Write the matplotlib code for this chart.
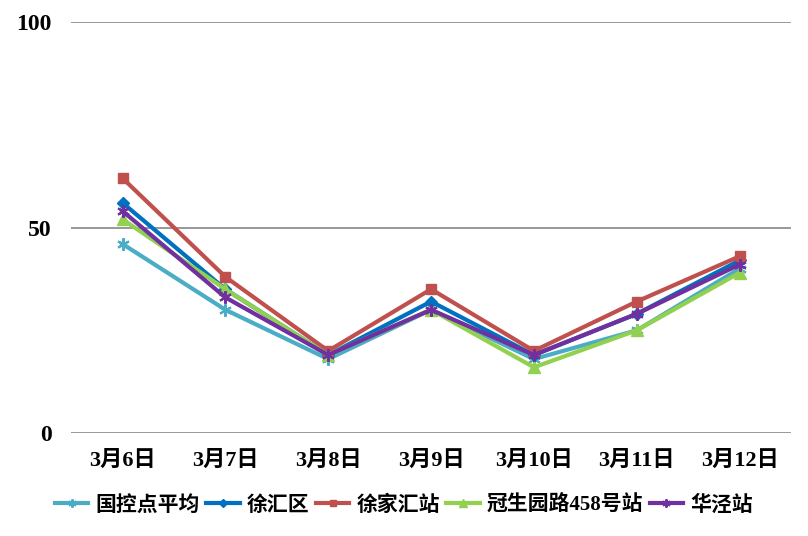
import matplotlib
matplotlib.use('Agg')
import matplotlib.pyplot as plt

dates = ['3月6日', '3月7日', '3月8日', '3月9日', '3月10日', '3月11日', '3月12日']
guokong = [46, 30, 18, 30, 18, 25, 40]
xuhui = [56, 35, 19, 32, 19, 29, 42]
xujiahui = [62, 38, 20, 35, 20, 32, 43]
guanshengyuan = [52, 35, 19, 30, 16, 25, 39]
huajing = [54, 33, 19, 30, 19, 29, 41]

fonts = ['Liberation Serif', 'Noto Sans CJK SC', 'DejaVu Sans']
plt.rcParams['font.family'] = fonts
plt.rcParams['font.weight'] = 'heavy'

fig = plt.figure(figsize=(8.08, 5.36), dpi=100)
ax = fig.add_axes([0.088, 0.192, 0.891, 0.767])

x = range(len(dates))
star = (6, 2, 0)
ax.plot(x, guokong, color='#4BACC6', lw=3, marker=star, ms=9, mew=1.5, label='国控点平均')
ax.plot(x, xuhui, color='#0070C0', lw=3, marker='D', ms=6, label='徐汇区')
ax.plot(x, xujiahui, color='#C0504D', lw=3, marker='s', ms=7, label='徐家汇站')
ax.plot(x, guanshengyuan, color='#92D050', lw=3, marker='^', ms=9, label='冠生园路458号站')
ax.plot(x, huajing, color='#7030A0', lw=3, marker=star, ms=9, mew=1.5, label='华泾站')

ax.set_xlim(-0.5, len(dates) - 0.5)
ax.set_ylim(0, 100)
ax.set_yticks([0, 50, 100])
ax.set_xticks(list(x))
ax.set_xticklabels(dates)
ax.tick_params(axis='y', labelsize=17, length=0, pad=14)
ax.tick_params(axis='x', labelsize=16, length=0, pad=13)
ax.yaxis.grid(True, color='#868686', lw=1.2)
ax.set_axisbelow(True)
for s in ax.spines.values():
    s.set_visible(False)

fig.legend(loc='center', bbox_to_anchor=(0.5, 0.057), ncol=5, frameon=False,
           fontsize=15, markerscale=0.65, handlelength=1.6, handletextpad=0.35,
           columnspacing=0.3)

fig.savefig('out.png', dpi=100)
